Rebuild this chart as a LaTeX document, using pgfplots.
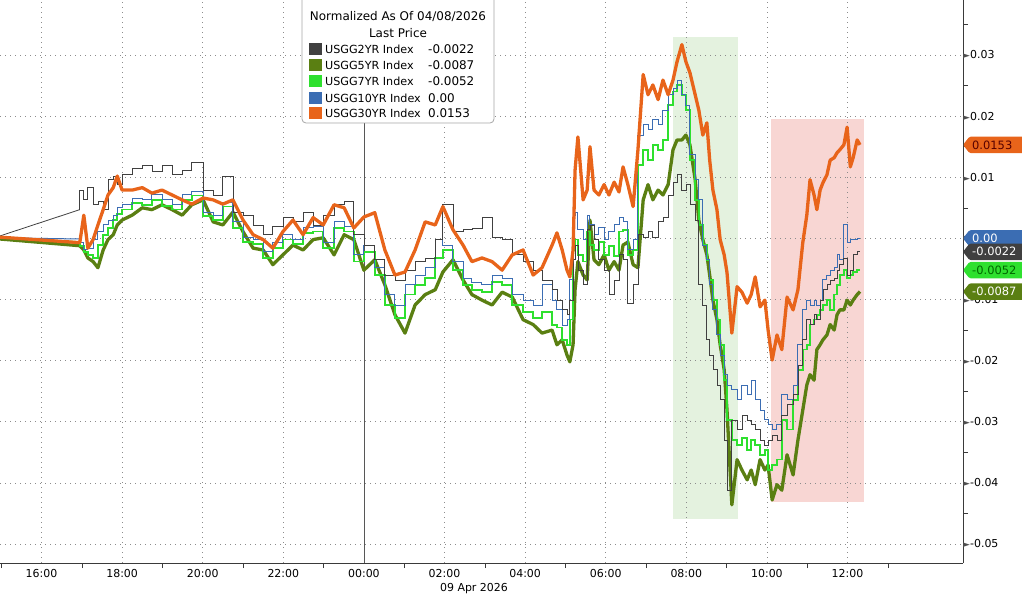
\documentclass[border=0pt]{standalone}
\usepackage{pgfplots}
\usepackage{pgfplotstable}
\pgfplotsset{compat=1.18}
\usepackage{fontspec}
\setmainfont{DejaVu Sans}
\definecolor{c2}{HTML}{404040}
\definecolor{c5}{HTML}{5A7F12}
\definecolor{c7}{HTML}{2EE02E}
\definecolor{c10}{HTML}{3B6DB3}
\definecolor{c30}{HTML}{E8641A}
\definecolor{shg}{HTML}{E4F2DF}
\definecolor{shr}{HTML}{F8D6D3}
\definecolor{gridc}{HTML}{8C8C8C}
\definecolor{axc}{HTML}{3A3A3A}
\newcommand{\tri}{\textcolor{axc!90}{\fontsize{9}{9}\selectfont ►}}
\newcommand{\valtag}[4]{%
  \fill[#2, rounded corners=1.5bp] (#1) -- ++(6.5bp,8.3bp) -- ++(62bp,0) -- ++(0,-16.6bp) -- ++(-62bp,0) -- cycle;
  \node[anchor=west, text=#3, inner sep=0pt, font=\fontsize{11.5}{12}\selectfont] at ([xshift=9bp]#1) {#4};
}
\pgfplotstableread{
h y2 y5 y7 y10 y30
-9.03 0.0004 -0.0001 0.0001 0.0001 0.0002
-7.05 0.0047 -0.0012 -0.0006 -0.0001 -0.0007
-6.95 0.0079 -0.0019 -0.0012 -0.0007 0.0038
-6.85 0.0063 -0.0032 -0.0022 -0.0019 -0.0016
-6.72 0.0083 -0.0038 -0.0027 -0.0016 -0.0002
-6.60 0.0055 -0.0048 -0.0032 -0.0002 0.0022
-6.47 0.0060 -0.0019 -0.0011 0.0011 0.0047
-6.35 0.0047 -0.0002 0.0006 0.0022 0.0071
-6.22 0.0096 0.0006 0.0017 0.0030 0.0083
-6.12 0.0101 0.0022 0.0030 0.0038 0.0102
-6.00 0.0088 0.0030 0.0040 0.0050 0.0079
-5.75 0.0104 0.0038 0.0047 0.0055 0.0079
-5.50 0.0115 0.0050 0.0058 0.0066 0.0083
-5.26 0.0120 0.0047 0.0055 0.0063 0.0074
-5.01 0.0109 0.0055 0.0063 0.0071 0.0079
-4.76 0.0120 0.0047 0.0053 0.0063 0.0071
-4.51 0.0104 0.0038 0.0047 0.0055 0.0063
-4.27 0.0112 0.0055 0.0063 0.0071 0.0056
-3.99 0.0124 0.0063 0.0070 0.0076 0.0066
-3.74 0.0079 0.0027 0.0037 0.0043 0.0063
-3.50 0.0071 0.0022 0.0030 0.0038 0.0056
-3.25 0.0102 0.0043 0.0052 0.0058 0.0063
-3.00 0.0042 0.0011 0.0017 0.0027 0.0030
-2.75 0.0038 -0.0016 -0.0006 0.0002 0.0006
-2.50 0.0022 -0.0019 -0.0009 -0.0002 -0.0002
-2.26 0.0006 -0.0043 -0.0032 -0.0022 -0.0016
-2.01 0.0019 -0.0027 -0.0016 -0.0007 0.0011
-1.76 0.0034 -0.0011 -0.0002 0.0006 0.0030
-1.51 0.0027 -0.0019 -0.0009 -0.0002 0.0006
-1.26 0.0043 -0.0002 0.0009 0.0017 0.0034
-1.01 0.0022 0.0001 0.0011 0.0019 0.0022
-0.74 0.0038 -0.0027 -0.0016 -0.0007 0.0055
-0.49 0.0055 0.0006 0.0017 0.0027 0.0050
-0.25 0.0060 -0.0002 0.0011 0.0020 0.0017
0.00 0.0006 -0.0052 -0.0038 -0.0027 0.0035
0.27 -0.0011 -0.0035 -0.0022 -0.0011 0.0042
0.52 -0.0035 -0.0076 -0.0060 -0.0048 -0.0019
0.77 -0.0060 -0.0125 -0.0109 -0.0092 -0.0060
1.02 -0.0068 -0.0155 -0.0130 -0.0109 -0.0055
1.27 -0.0052 -0.0109 -0.0092 -0.0076 -0.0019
1.52 -0.0038 -0.0092 -0.0076 -0.0060 0.0027
1.77 -0.0032 -0.0084 -0.0065 -0.0048 0.0022
1.96 -0.0002 -0.0055 -0.0032 -0.0002 0.0052
2.21 0.0055 -0.0035 -0.0019 -0.0011 0.0014
2.46 0.0011 -0.0068 -0.0052 -0.0038 -0.0011
2.68 0.0014 -0.0092 -0.0076 -0.0065 -0.0038
2.93 0.0017 -0.0101 -0.0084 -0.0073 -0.0032
3.18 0.0034 -0.0109 -0.0088 -0.0076 -0.0038
3.43 0.0001 -0.0088 -0.0071 -0.0060 -0.0052
3.68 -0.0002 -0.0096 -0.0076 -0.0065 -0.0027
3.95 -0.0027 -0.0133 -0.0109 -0.0092 -0.0019
4.20 -0.0038 -0.0141 -0.0120 -0.0101 -0.0060
4.42 -0.0052 -0.0155 -0.0130 -0.0109 -0.0048
4.67 -0.0068 -0.0150 -0.0120 -0.0076 -0.0011
4.79 -0.0084 -0.0174 -0.0142 -0.0101 0.0009
4.92 -0.0101 -0.0166 -0.0146 -0.0117 -0.0019
5.04 -0.0117 -0.0191 -0.0166 -0.0142 -0.0052
5.11 -0.0125 -0.0202 -0.0174 -0.0133 -0.0063
5.19 -0.0101 -0.0174 -0.0133 -0.0068 -0.0019
5.24 -0.0035 -0.0084 -0.0019 0.0038 0.0112
5.31 -0.0011 -0.0038 -0.0002 0.0042 0.0166
5.44 -0.0052 -0.0060 -0.0027 0.0014 0.0063
5.54 -0.0076 -0.0068 -0.0038 -0.0002 0.0079
5.61 0.0014 0.0030 0.0011 0.0038 0.0150
5.71 0.0022 -0.0035 -0.0011 0.0022 0.0079
5.83 -0.0002 -0.0043 -0.0019 0.0006 0.0071
5.96 -0.0035 -0.0027 -0.0006 0.0017 0.0088
6.08 -0.0052 -0.0052 -0.0027 -0.0002 0.0071
6.21 -0.0092 -0.0038 -0.0012 0.0011 0.0092
6.33 -0.0068 -0.0052 -0.0029 0.0022 0.0076
6.43 -0.0027 -0.0011 0.0011 0.0034 0.0117
6.55 -0.0035 -0.0006 0.0014 0.0027 0.0088
6.68 -0.0106 -0.0043 -0.0027 -0.0019 0.0052
6.80 -0.0076 -0.0048 -0.0019 -0.0002 0.0145
6.93 0.0006 0.0063 0.0120 0.0169 0.0268
7.05 0.0001 0.0088 0.0145 0.0186 0.0235
7.17 0.0011 0.0063 0.0128 0.0178 0.0251
7.30 0.0002 0.0079 0.0153 0.0194 0.0227
7.42 0.0027 0.0071 0.0145 0.0186 0.0259
7.55 0.0034 0.0088 0.0161 0.0210 0.0235
7.67 0.0071 0.0145 0.0218 0.0235 0.0259
7.77 0.0091 0.0161 0.0240 0.0246 0.0289
7.89 0.0104 0.0161 0.0251 0.0259 0.0317
7.99 0.0079 0.0169 0.0235 0.0235 0.0289
8.09 0.0088 0.0153 0.0210 0.0218 0.0271
8.22 0.0055 0.0096 0.0128 0.0137 0.0235
8.31 0.0030 0.0030 0.0063 0.0096 0.0210
8.41 -0.0076 -0.0002 0.0022 0.0063 0.0169
8.51 -0.0109 -0.0027 -0.0011 -0.0011 0.0189
8.58 -0.0166 -0.0060 -0.0035 -0.0035 0.0128
8.66 -0.0191 -0.0101 -0.0068 -0.0076 0.0079
8.76 -0.0215 -0.0133 -0.0101 -0.0117 0.0047
8.84 -0.0240 -0.0174 -0.0133 -0.0158 -0.0002
8.94 -0.0264 -0.0215 -0.0174 -0.0191 -0.0027
9.01 -0.0330 -0.0281 -0.0232 -0.0223 -0.0056
9.13 -0.0412 -0.0436 -0.0297 -0.0240 -0.0155
9.26 -0.0297 -0.0362 -0.0330 -0.0248 -0.0079
9.38 -0.0313 -0.0379 -0.0338 -0.0264 -0.0088
9.51 -0.0289 -0.0395 -0.0327 -0.0240 -0.0106
9.61 -0.0297 -0.0379 -0.0346 -0.0256 -0.0092
9.71 -0.0305 -0.0403 -0.0330 -0.0232 -0.0063
9.83 -0.0313 -0.0362 -0.0338 -0.0264 -0.0112
9.95 -0.0330 -0.0379 -0.0354 -0.0281 -0.0101
10.03 -0.0338 -0.0371 -0.0346 -0.0297 -0.0150
10.13 -0.0330 -0.0428 -0.0379 -0.0305 -0.0199
10.25 -0.0322 -0.0403 -0.0371 -0.0313 -0.0158
10.37 -0.0330 -0.0412 -0.0362 -0.0305 -0.0182
10.50 -0.0289 -0.0354 -0.0297 -0.0256 -0.0096
10.65 -0.0272 -0.0387 -0.0313 -0.0264 -0.0117
10.77 -0.0256 -0.0330 -0.0264 -0.0240 -0.0084
10.89 -0.0207 -0.0281 -0.0215 -0.0174 -0.0007
10.99 -0.0166 -0.0240 -0.0182 -0.0117 0.0038
11.07 -0.0133 -0.0223 -0.0174 -0.0101 0.0096
11.17 -0.0141 -0.0232 -0.0141 -0.0109 0.0071
11.24 -0.0125 -0.0182 -0.0133 -0.0101 0.0047
11.32 -0.0133 -0.0174 -0.0125 -0.0109 0.0079
11.39 -0.0101 -0.0166 -0.0117 -0.0101 0.0091
11.49 -0.0084 -0.0158 -0.0109 -0.0068 0.0104
11.57 -0.0076 -0.0141 -0.0101 -0.0060 0.0128
11.67 -0.0068 -0.0150 -0.0117 -0.0052 0.0132
11.74 -0.0065 -0.0125 -0.0092 -0.0048 0.0140
11.81 -0.0052 -0.0117 -0.0076 -0.0027 0.0145
11.91 -0.0043 -0.0117 -0.0060 -0.0035 0.0153
11.99 -0.0032 -0.0101 -0.0052 0.0022 0.0182
12.07 -0.0060 -0.0109 -0.0065 -0.0007 0.0117
12.14 -0.0052 -0.0101 -0.0060 -0.0002 0.0132
12.24 -0.0027 -0.0092 -0.0055 -0.0002 0.0161
12.31 -0.0022 -0.0087 -0.0052 0.0000 0.0153
}\data

\begin{document}
\begin{tikzpicture}
\begin{axis}[
  at={(0,0)}, anchor=south west,
  scale only axis, width=963bp, height=563bp,
  xmin=-9.03, xmax=14.866, ymin=-0.05311, ymax=0.0390,
  axis x line*=bottom, axis y line*=right,
  axis line style={axc, line width=0.8bp},
  set layers=standard,
  clip=false,
  no markers,
  scaled y ticks=false,
  xtick={-8,-6,...,12},
  xticklabels={16:00,18:00,20:00,22:00,00:00,02:00,04:00,06:00,08:00,10:00,12:00},
  minor xtick={-9,-7,...,13},
  ytick={-0.05,-0.04,-0.03,-0.02,-0.01,0,0.01,0.02,0.03},
  yticklabels={\tri-0.05,\tri-0.04,\tri-0.03,\tri-0.02,\tri-0.01,\tri,\tri0.01,\tri0.02,\tri0.03},
  minor ytick={-0.045,-0.035,-0.025,-0.015,-0.005,0.005,0.015,0.025,0.035},
  major tick length=0pt, minor tick length=5bp,
  tick align=outside,
  tick style={axc, line width=0.6bp},
  grid=major,
  major grid style={gridc, dash pattern=on 1.4bp off 3.6bp, line width=0.7bp},
  xticklabel style={font=\fontsize{11}{12}\selectfont, yshift=-3bp},
  yticklabel style={font=\fontsize{11}{12}\selectfont, anchor=west, inner sep=0pt},
  gap/.style={restrict x to domain=-9.1:-7.0},
  main/.style={restrict x to domain=-7.06:13, const plot mark right},
]
\begin{pgfonlayer}{axis background}
\fill[shg] (axis cs:7.67,0.0330) rectangle (axis cs:9.28,-0.0459);
\fill[shr] (axis cs:10.10,0.0196) rectangle (axis cs:12.41,-0.0431);
\end{pgfonlayer}
\draw[axc!85, line width=0.8bp] (axis cs:0,-0.05311) -- (axis cs:0,0.0390);
\addplot[c5, line width=3.3bp, line join=round] table[x=h,y=y5]{\data};
\addplot[c7, line width=1.6bp, gap] table[x=h,y=y7]{\data};
\addplot[c7, line width=1.6bp, main] table[x=h,y=y7]{\data};
\addplot[c10, line width=1bp, gap] table[x=h,y=y10]{\data};
\addplot[c10, line width=1bp, main] table[x=h,y=y10]{\data};
\addplot[c2, line width=0.8bp, gap] table[x=h,y=y2]{\data};
\addplot[c2, line width=0.8bp, main] table[x=h,y=y2]{\data};
\addplot[c30, line width=3.3bp, line join=round] table[x=h,y=y30]{\data};
\coordinate (t30) at (axis cs:14.866,0.0153);
\coordinate (t10) at (axis cs:14.866,0.0);
\coordinate (t2) at (axis cs:14.866,-0.0022);
\coordinate (t7) at (axis cs:14.866,-0.0052);
\coordinate (t5) at (axis cs:14.866,-0.0087);
\end{axis}
\valtag{t30}{c30}{black!55!red!75!black}{0.0153}
\valtag{t10}{c10}{white}{0.00}
\valtag{t2}{c2}{white}{-0.0022}
\valtag{t7}{c7}{green!40!black}{-0.0052}
\valtag{t5}{c5}{white}{-0.0087}
\begin{scope}[x=1bp,y=1bp]
\node[font=\fontsize{11}{12}\selectfont] at (474,-26) {09 Apr 2026};
\draw[fill=white, draw=gray!70, rounded corners=4bp, line width=0.8bp] (302,440) rectangle (494,580);
\node[font=\fontsize{12}{13}\selectfont] at (398,546.5) {Normalized As Of 04/08/2026};
\node[font=\fontsize{12}{13}\selectfont] at (398,530) {Last Price};
\foreach \yy/\cc/\nn/\vv in {514/c2/USGG2YR Index/-0.0022, 498/c5/USGG5YR Index/-0.0087, 482/c7/USGG7YR Index/-0.0052, 465/c10/USGG10YR Index/0.00, 450/c30/USGG30YR Index/0.0153}{
  \fill[\cc] (309,\yy-6) rectangle (321.5,\yy+6);
  \node[anchor=west, inner sep=0pt, font=\fontsize{11.2}{12}\selectfont] at (325,\yy) {\nn};
  \node[anchor=west, inner sep=0pt, font=\fontsize{12}{12}\selectfont] at (428,\yy) {\vv};
}
\end{scope}
\pgfresetboundingbox
\path[use as bounding box] (0,-35bp) rectangle (1022bp,563bp);
\end{tikzpicture}
\end{document}
